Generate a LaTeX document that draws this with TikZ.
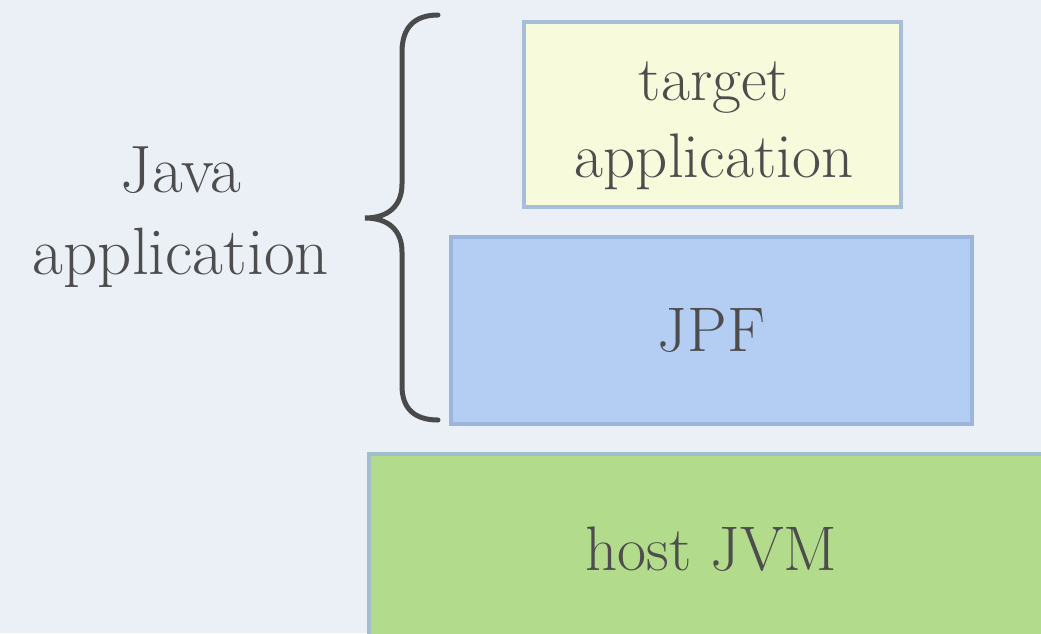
\documentclass[tikz,border=0pt]{standalone}
\usepackage{fontspec}
\definecolor{bgcol}{HTML}{EAF0F6}
\definecolor{txtcol}{HTML}{4D4D4D}
\definecolor{bracecol}{HTML}{4A4A4A}
\definecolor{yelfill}{HTML}{F8FADC}
\definecolor{yeldraw}{HTML}{A8BED8}
\definecolor{bluefill}{HTML}{B3CDF3}
\definecolor{bluedraw}{HTML}{9BB6DC}
\definecolor{greenfill}{HTML}{B2DC8C}
\definecolor{greendraw}{HTML}{A2BECB}
\tikzset{
  layerbox/.style={rectangle, line width=4pt, inner sep=0pt, text=txtcol,
    font=\fontsize{63}{77}\selectfont, align=center},
  txt/.style={text=txtcol, inner sep=0pt, align=center},
  bracestyle/.style={draw=bracecol, line width=5pt, line cap=round}
}
\begin{document}
\begin{tikzpicture}[x=1pt,y=-1pt]
  \fill[bgcol] (0,0) rectangle (1041,633);
  \useasboundingbox (0,0) rectangle (1041,633);
  % boxes
  \node (target) [layerbox, fill=yelfill, draw=yeldraw, minimum width=377pt, minimum height=185pt] at (712.5,114.5) {};
  \node (targettext) [txt, font=\fontsize{63}{77}\selectfont] at (714,125.3) {target\\application};
  \node (jpf) [layerbox, fill=bluefill, draw=bluedraw, minimum width=521pt, minimum height=187pt] at (711.5,330.5) {JPF};
  \node (jvm) [layerbox, fill=greenfill, draw=greendraw, minimum width=685pt, minimum height=190pt] at (711.5,549) {host JVM};
  % left label
  \node (java) [txt, font=\fontsize{67}{82}\selectfont] at (181,217.6) {Java\\application};
  % brace
  \draw[bracestyle] (438,15) .. controls (414,15) and (402,28) .. (402,52)
     -- (402,184) .. controls (402,206) and (388,218) .. (365,218)
     .. controls (388,218) and (402,230) .. (402,252)
     -- (402,386) .. controls (402,408) and (414,420) .. (438,420);
\end{tikzpicture}
\end{document}
